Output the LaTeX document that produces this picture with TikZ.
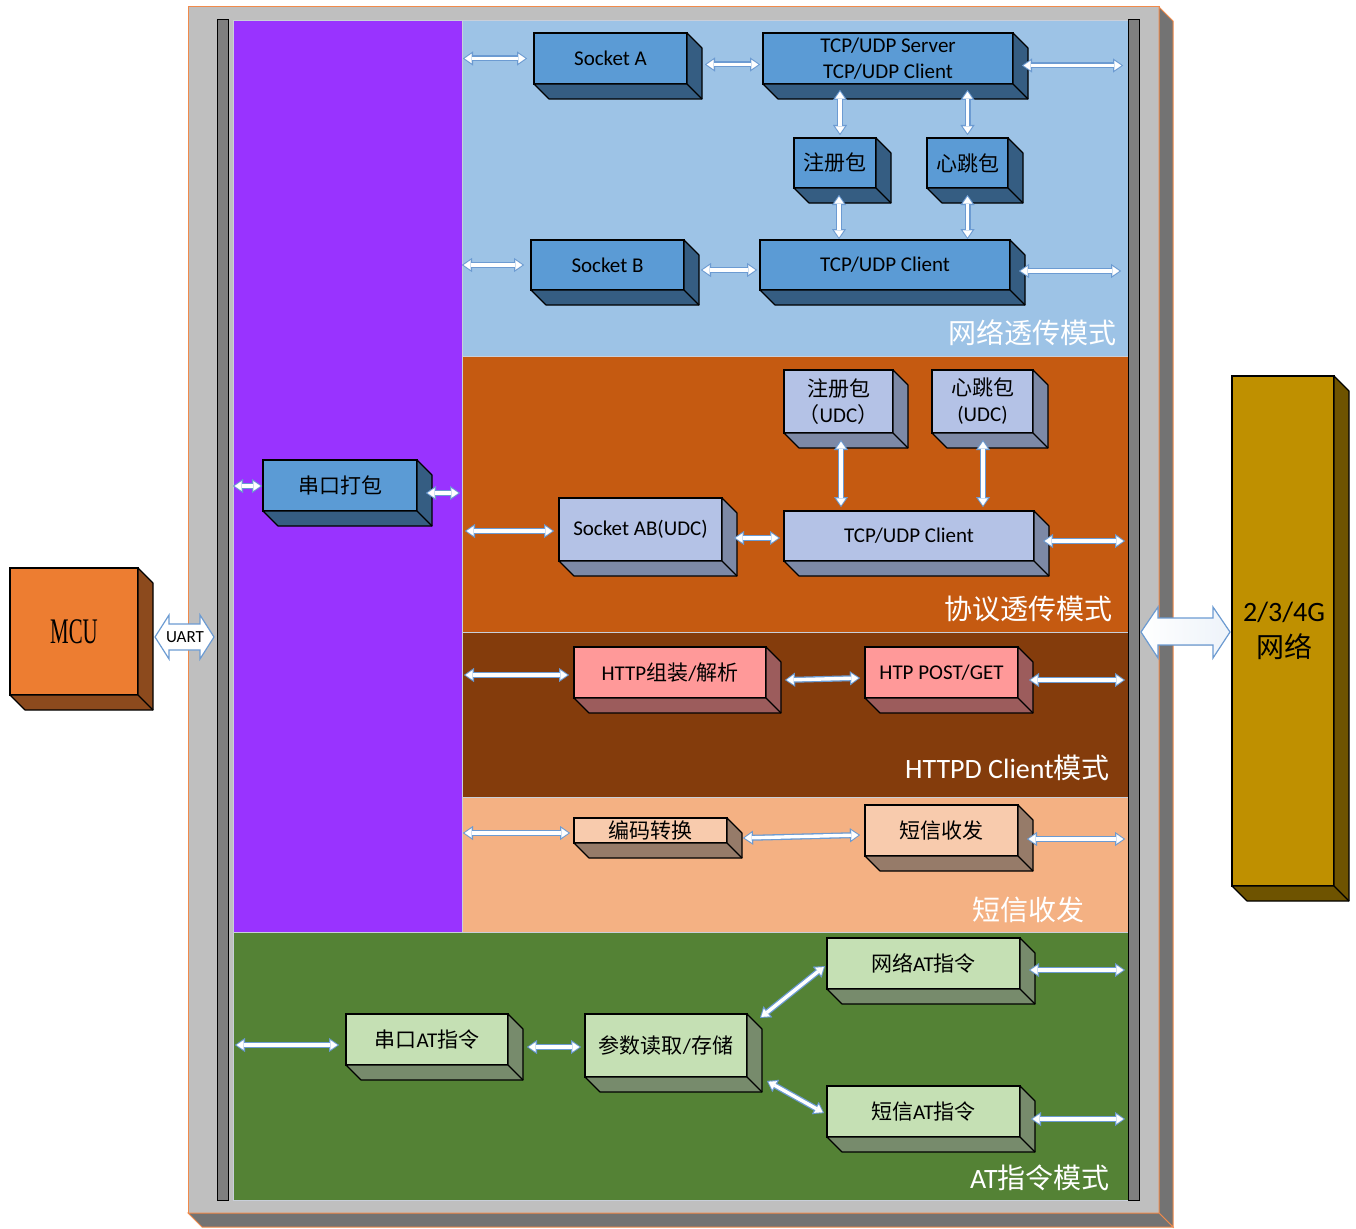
\documentclass[tikz,border=0pt]{standalone}
\usepackage{fontspec}
\setmainfont{Carlito}
\newfontfamily\cjk{Noto Sans CJK SC}
\newfontfamily\mcufont{Liberation Serif}
\newcommand\cj[1]{{\cjk #1}}
\usetikzlibrary{arrows.meta,calc}
\definecolor{framegray}{HTML}{BFBFBF}
\definecolor{frameor}{HTML}{F08A4B}
\definecolor{framedark}{HTML}{737373}
\definecolor{bargray}{HTML}{7F7F7F}
\definecolor{purp}{HTML}{9933FF}
\definecolor{secblue}{HTML}{9DC3E6}
\definecolor{secorange}{HTML}{C55A11}
\definecolor{secbrown}{HTML}{843C0C}
\definecolor{secsalmon}{HTML}{F4B183}
\definecolor{secgreen}{HTML}{548235}
\definecolor{bfront}{HTML}{5B9BD5}
\definecolor{bside}{HTML}{355D82}
\definecolor{lfront}{HTML}{B4C2E6}
\definecolor{lside}{HTML}{7D89A6}
\definecolor{pfront}{HTML}{FF9999}
\definecolor{pside}{HTML}{9C5C5C}
\definecolor{sfront}{HTML}{F8CBAD}
\definecolor{sside}{HTML}{967B69}
\definecolor{gfront}{HTML}{C5E0B4}
\definecolor{gside}{HTML}{778B6C}
\definecolor{mfront}{HTML}{ED7D31}
\definecolor{mside}{HTML}{8C4A1D}
\definecolor{nfront}{HTML}{BF9000}
\definecolor{nside}{HTML}{6E5300}
\definecolor{arrblue}{HTML}{6C9BD2}
\definecolor{seplight}{HTML}{C9CFDA}
\newcommand\boxfnt{\fontsize{21}{26}\selectfont}
\newcommand\secfnt{\fontsize{28}{30}\selectfont}
\newcommand\bx[8]{%
  \node[blk, fill=#6, minimum width=#4pt, minimum height=#5pt] (#1) at (#2,#3) {#8};
  \filldraw[fill=#7, draw=black, line width=1.1pt, line join=round]
    (#1.north east) -- ++(15,15) -- ($(#1.south east)+(15,15)$) -- ($(#1.south west)+(15,15)$)
    -- (#1.south west) -- (#1.south east) -- cycle;
  \draw[line width=1.1pt] (#1.south east) -- ++(15,15);
}
\newcommand\conn[2]{%
  \draw[cb] #1 -- #2;
  \draw[cw] #1 -- #2;
}
\begin{document}
\begin{tikzpicture}[x=1pt,y=-1pt,
  blk/.style={draw=black, line width=1.1pt, inner sep=0pt, outer sep=0pt, anchor=north west, align=center, font=\boxfnt},
  panel/.style={inner sep=0pt, outer sep=0pt, anchor=north west, draw=seplight, line width=0.8pt},
  barsty/.style={inner sep=0pt, outer sep=0pt, anchor=north west, draw=black, line width=1pt, fill=bargray},
  seclab/.style={text=white, font=\secfnt, inner sep=0pt, anchor=east},
  cb/.style={draw=arrblue, line width=6pt, {Triangle[length=10pt,width=14pt,line width=0.1pt]}-{Triangle[length=10pt,width=14pt,line width=0.1pt]}},
  cw/.style={draw=white, line width=3.4pt, shorten <=1.7pt, shorten >=1.7pt, {Triangle[length=7pt,width=9.5pt,line width=0.1pt]}-{Triangle[length=7pt,width=9.5pt,line width=0.1pt]}}
]
\useasboundingbox (0,0) rectangle (1356,1228);

% outer frame
\filldraw[fill=framegray, draw=frameor, line width=1pt] (188,7) rectangle (1159,1213);
\filldraw[fill=framedark, draw=frameor, line width=1pt] (1159,7) -- (1173,21) -- (1173,1227) -- (1159,1213) -- cycle;
\filldraw[fill=framedark, draw=frameor, line width=1pt] (188,1213) -- (1159,1213) -- (1173,1227) -- (202,1227) -- cycle;

% panels
\node[panel, fill=purp, minimum width=229pt, minimum height=912pt] (pur) at (233,20) {};
\node[panel, fill=secblue, minimum width=666pt, minimum height=336pt] (sblue) at (462,20) {};
\node[panel, fill=secorange, minimum width=666pt, minimum height=276pt] (sor) at (462,356) {};
\node[panel, fill=secbrown, minimum width=666pt, minimum height=165pt] (sbr) at (462,632) {};
\node[panel, fill=secsalmon, minimum width=666pt, minimum height=135pt] (ssa) at (462,797) {};
\node[panel, fill=secgreen, minimum width=895pt, minimum height=268pt] (sgr) at (233,932) {};

% bars
\node[barsty, minimum width=11pt, minimum height=1180pt] (lb) at (217,20) {};
\node[barsty, minimum width=11pt, minimum height=1180pt] (rb) at (1128,20) {};

% section labels
\node[seclab] (l1) at (1117,333) {\cj{网络透传模式}};
\node[seclab] (l2) at (1113,609) {\cj{协议透传模式}};
\node[seclab] (l3) at (1110,768) {HTTPD Client\cj{模式}};
\node[seclab] (l4) at (1085,910) {\cj{短信收发}};
\node[seclab] (l5) at (1110,1178) {AT\cj{指令模式}};

% boxes
\bx{sa}{534}{33}{153}{51}{bfront}{bside}{Socket A}
\bx{tcs}{763}{33}{250}{51}{bfront}{bside}{TCP/UDP Server\\TCP/UDP Client}
\bx{zc}{794}{138}{82}{50}{bfront}{bside}{\cj{注册包}}
\bx{xt}{927}{138}{81}{50}{bfront}{bside}{\cj{心跳包}}
\bx{sb}{531}{240}{153}{50}{bfront}{bside}{Socket B}
\bx{tc}{760}{240}{250}{50}{bfront}{bside}{TCP/UDP Client}
\bx{ck}{263}{460}{154}{51}{bfront}{bside}{\cj{串口打包}}

\bx{zcu}{784}{370}{109}{63}{lfront}{lside}{\cj{注册包}\\\cj{（}UDC\cj{）}}
\bx{xtu}{932}{370}{101}{63}{lfront}{lside}{\cj{心跳包}\\(UDC)}
\bx{sab}{559}{498}{163}{63}{lfront}{lside}{Socket AB(UDC)}
\bx{tcu}{784}{511}{250}{50}{lfront}{lside}{TCP/UDP Client}

\bx{http}{574}{647}{192}{51}{pfront}{pside}{HTTP\cj{组装}/\cj{解析}}
\bx{post}{865}{647}{153}{51}{pfront}{pside}{HTP POST/GET}

\bx{bm}{574}{818}{153}{25}{sfront}{sside}{\cj{编码转换}}
\bx{dx}{865}{805}{153}{51}{sfront}{sside}{\cj{短信收发}}

\bx{wat}{827}{938}{193}{51}{gfront}{gside}{\cj{网络}AT\cj{指令}}
\bx{dat}{827}{1086}{193}{51}{gfront}{gside}{\cj{短信}AT\cj{指令}}
\bx{cat}{346}{1014}{162}{51}{gfront}{gside}{\cj{串口}AT\cj{指令}}
\bx{cs}{585}{1014}{162}{63}{gfront}{gside}{\cj{参数读取}/\cj{存储}}

\bx{mcu}{10}{568}{128}{127}{mfront}{mside}{}
\node[inner sep=0pt] (mcut) at (mcu.center) {\scalebox{0.58}[1]{\mcufont\fontsize{36}{38}\selectfont MCU}};
\bx{net}{1232}{376}{102}{510}{nfront}{nside}{}
\node[inner sep=0pt, align=center, font=\fontsize{28}{36}\selectfont] (nett) at (1284,631) {2/3/4G\\\cj{网络}};

% UART arrow
\filldraw[fill=white, draw=arrblue, line width=1.2pt, line join=miter]
  (155,637) -- (169,615) -- (169,624) -- (200,624) -- (200,615) -- (214,637)
  -- (200,659) -- (200,650) -- (169,650) -- (169,659) -- cycle;
\node[inner sep=0pt, font=\fontsize{17}{18}\selectfont] (uart) at (185,637) {UART};

% network arrow
\filldraw[left color=white, right color=arrblue!12, draw=arrblue, line width=1.2pt, line join=miter]
  (1141,632) -- (1158,607) -- (1158,618) -- (1213,618) -- (1213,607) -- (1230,632)
  -- (1213,658) -- (1213,645) -- (1158,645) -- (1158,658) -- cycle;

% connectors
\conn{($(pur.east|-sa.west)+(1,0)$)}{($(sa.west)+(-7,0)$)}
\conn{($(sa.east)+(18,6)$)}{($(tcs.west)+(-3,6)$)}
\conn{($(tcs.east)+(9,7)$)}{($(rb.west|-tcs.east)+(-5,7)$)}
\conn{($(zc.north)+(5,-3)$)}{($(zc.north)+(5,-48)$)}
\conn{($(xt.north)+(0,-3)$)}{($(xt.north)+(0,-48)$)}
\conn{($(zc.south)+(4,7)$)}{($(tc.north-|zc.south)+(4,-1)$)}
\conn{($(xt.south)+(0,7)$)}{($(tc.north-|xt.south)+(0,-1)$)}
\conn{($(pur.east|-sb.west)+(0,0)$)}{($(sb.west)+(-7,0)$)}
\conn{($(sb.east)+(17,5)$)}{($(tc.west)+(-3,5)$)}
\conn{($(tc.east)+(9,6)$)}{($(rb.west|-tc.east)+(-7,6)$)}
\conn{($(lb.east|-ck.west)+(5,0.5)$)}{($(ck.west)+(-1,0.5)$)}
\conn{($(ck.east)+(9,7.5)$)}{($(pur.east|-ck.east)+(-2,7.5)$)}
\conn{($(pur.east|-sab.west)+(3,1.5)$)}{($(sab.west)+(-5,1.5)$)}
\conn{($(sab.east)+(12,8.5)$)}{($(tcu.west)+(-4,2)$)}
\conn{($(zcu.south)+(2.5,7)$)}{($(tcu.north-|zcu.south)+(2.5,-4)$)}
\conn{($(xtu.south)+(0.5,7)$)}{($(tcu.north-|xtu.south)+(0.5,-4)$)}
\conn{($(tcu.east)+(9,5)$)}{($(rb.west|-tcu.east)+(-3,5)$)}
\conn{($(pur.east|-http.west)+(2,2.5)$)}{($(http.west)+(-5,2.5)$)}
\conn{($(http.east)+(19,7.5)$)}{($(post.west)+(-5,5.5)$)}
\conn{($(post.east)+(11,7.5)$)}{($(rb.west|-post.east)+(-3,7.5)$)}
\conn{($(pur.east|-bm.west)+(1,2.5)$)}{($(bm.west)+(-4,2.5)$)}
\conn{($(bm.east)+(16,7.5)$)}{($(dx.west)+(-5,4.5)$)}
\conn{($(dx.east)+(9,8.5)$)}{($(rb.west|-dx.east)+(-3,8.5)$)}
\conn{($(lb.east|-cat.west)+(7,5.5)$)}{($(cat.west)+(-7,5.5)$)}
\conn{($(cat.east)+(19,7.5)$)}{($(cs.west)+(-4,1.5)$)}
\conn{($(cs.north east)+(13,4)$)}{($(wat.west)+(-2,2.5)$)}
\conn{($(cs.south east)+(20,4)$)}{($(dat.west)+(-3,1.5)$)}
\conn{($(wat.east)+(9,6.5)$)}{($(rb.west|-wat.east)+(-3,6.5)$)}
\conn{($(dat.east)+(11,7.5)$)}{($(rb.west|-dat.east)+(-3,7.5)$)}
\end{tikzpicture}
\end{document}
